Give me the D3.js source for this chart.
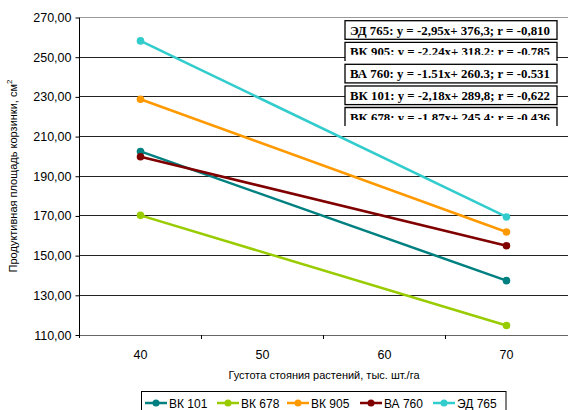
<!DOCTYPE html>
<html><head><meta charset="utf-8">
<script src="https://cdn.jsdelivr.net/npm/d3@7"></script>
<style>body{margin:0;background:#fff}svg{display:block}</style>
</head><body>
<svg id="c" width="568" height="410"></svg>
<script>
const categories = [40, 50, 60, 70];
const yTicks = [110, 130, 150, 170, 190, 210, 230, 250, 270];
const seriesNames = ["ВК 101", "ВК 678", "ВК 905", "ВА 760", "ЭД 765"];
const seriesColors = ["#008080", "#99CC00", "#FF9900", "#800000", "#33CCCC"];
const xPoints = [40, 70];
const vk101 = [202.5, 137.4];
const vk678 = [170.3, 114.8];
const vk905 = [228.8, 161.9];
const ba760 = [199.8, 155.0];
const ed765 = [258.2, 169.5];
const equations = [
  "ЭД 765: y = -2,95x+ 376,3; r = -0,810",
  "ВК 905: y = -2,24x+ 318,2; r = -0,785",
  "ВА 760: y = -1.51x+ 260.3; r = -0.531",
  "ВК 101: y = -2,18x+ 289,8; r = -0,622",
  "ВК 678: y = -1,87x+ 245,4; r = -0,436"
];
const seriesValues = [vk101, vk678, vk905, ba760, ed765];

const svg = d3.select("#c");
const L = 79.5, R = 567.5, T = 17.5, B = 335;
const x = d3.scaleBand().domain(categories).range([L, R]);
const y = d3.scaleLinear().domain([110, 270]).range([B, T]);
const cx = v => x(v) + x.bandwidth() / 2;

// gridlines
svg.append("g").selectAll("line").data(yTicks.filter(t => t > 110)).join("line")
  .attr("x1", L).attr("x2", R).attr("y1", d => y(d)).attr("y2", d => y(d))
  .attr("stroke", d => d === 270 ? "#999" : "#222").attr("stroke-width", 1)
  .attr("shape-rendering", "crispEdges");

// y axis
const yAxis = d3.axisLeft(y).tickValues(yTicks).tickSize(4).tickPadding(4)
  .tickFormat(d => d3.format(".2f")(d).replace(".", ","));
const gy = svg.append("g").attr("transform", `translate(${L},0)`).call(yAxis);
gy.select(".domain").remove();
gy.append("line").attr("x1", 0).attr("x2", 0).attr("y1", T).attr("y2", B + 3).attr("stroke", "#000");
gy.selectAll(".tick line").attr("stroke", "#000");
gy.selectAll("text").attr("font-family", "Liberation Sans, Arial, sans-serif").attr("font-size", 12.5).attr("fill", "#000");

// x axis
const gx = svg.append("g").attr("transform", `translate(0,${B})`);
gx.append("line").attr("x1", L).attr("x2", R).attr("stroke", "#666").attr("shape-rendering", "crispEdges");
const bounds = categories.map(c => x(c)).slice(1);
gx.selectAll("line.tk").data(bounds).join("line").attr("class", "tk")
  .attr("x1", d => d).attr("x2", d => d).attr("y1", 0).attr("y2", 4).attr("stroke", "#000");
gx.selectAll("text").data(categories).join("text")
  .attr("x", d => cx(d)).attr("y", 24).attr("text-anchor", "middle")
  .attr("font-family", "Liberation Sans, Arial, sans-serif").attr("font-size", 12.5).text(d => d);

// axis titles
svg.append("text").attr("x", 324).attr("y", 379).attr("text-anchor", "middle")
  .attr("font-family", "Liberation Sans, Arial, sans-serif").attr("font-size", 11)
  .text("Густота стояния растений, тыс. шт./га");
const yt = svg.append("text").attr("transform", "translate(17,176) rotate(-90)").attr("text-anchor", "middle")
  .attr("font-family", "Liberation Sans, Arial, sans-serif").attr("font-size", 11);
yt.append("tspan").text("Продуктивная площадь корзинки, см");
yt.append("tspan").attr("dy", -5).attr("font-size", 8).text("2");

// series
const line = d3.line().x((d, i) => cx(xPoints[i])).y(d => y(d));
seriesValues.forEach((vals, si) => {
  const g = svg.append("g");
  g.append("path").attr("d", line(vals)).attr("fill", "none")
    .attr("stroke", seriesColors[si]).attr("stroke-width", 2.5);
  g.selectAll("circle").data(vals).join("circle")
    .attr("cx", (d, i) => cx(xPoints[i])).attr("cy", d => y(d)).attr("r", 3.8)
    .attr("fill", seriesColors[si]);
});

// equation boxes
const bx = 345, bw = 212;
const boxTops = [20.7, 42.3, 64.3, 86, 107.5];
const clipped = [false, true, false, false, true];
const defs = svg.append("defs");
equations.forEach((eq, i) => {
  const top = boxTops[i];
  const g = svg.append("g");
  if (!clipped[i]) {
    g.append("rect").attr("x", bx).attr("y", top).attr("width", bw).attr("height", 18.6)
      .attr("fill", "#fff").attr("stroke", "#000").attr("stroke-width", 1.3);
    g.append("text").attr("x", bx + 5).attr("y", top + 14)
      .attr("font-family", "Liberation Serif, Times New Roman, serif").attr("font-weight", "bold")
      .attr("font-size", 13).attr("textLength", 200).attr("lengthAdjust", "spacingAndGlyphs").text(eq);
  } else {
    const h = 18.6;
    g.append("rect").attr("x", bx).attr("y", top).attr("width", bw).attr("height", h)
      .attr("fill", "#fff").attr("stroke", "none");
    g.append("path").attr("d", `M${bx},${top + h}V${top}H${bx + bw}V${top + h}`)
      .attr("fill", "none").attr("stroke", "#000").attr("stroke-width", 1.3);
    const id = "clip" + i;
    defs.append("clipPath").attr("id", id).append("rect")
      .attr("x", bx).attr("y", top).attr("width", bw).attr("height", 12.5);
    g.append("text").attr("x", bx + 5).attr("y", top + 14).attr("clip-path", `url(#${id})`)
      .attr("font-family", "Liberation Serif, Times New Roman, serif").attr("font-weight", "bold")
      .attr("font-size", 13).attr("textLength", 200).attr("lengthAdjust", "spacingAndGlyphs").text(eq);
  }
});

// legend
const lg = svg.append("g");
lg.append("rect").attr("x", 141.5).attr("y", 391.5).attr("width", 364.5).attr("height", 30)
  .attr("fill", "#fff").attr("stroke", "#000").attr("stroke-width", 1);
const legX = [145, 217, 287, 360, 433];
seriesNames.forEach((n, i) => {
  const g = lg.append("g").attr("transform", `translate(${legX[i]},403)`);
  g.append("line").attr("x1", 0).attr("x2", 22).attr("stroke", seriesColors[i]).attr("stroke-width", 2.5);
  g.append("circle").attr("cx", 11).attr("cy", 0).attr("r", 3.5).attr("fill", seriesColors[i]);
  g.append("text").attr("x", 24).attr("y", 4.5)
    .attr("font-family", "Liberation Sans, Arial, sans-serif").attr("font-size", 12).text(n);
});
</script>
</body></html>
